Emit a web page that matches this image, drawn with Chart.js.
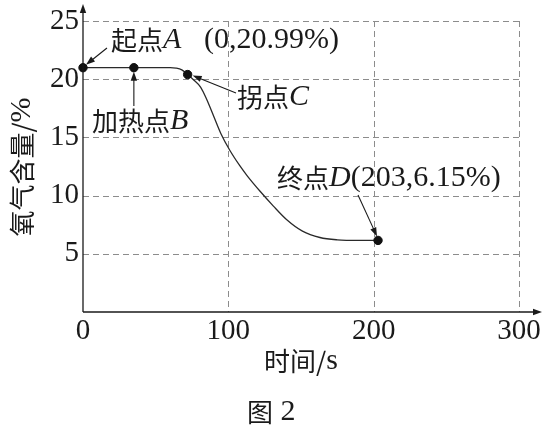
<!DOCTYPE html>
<html>
<head>
<meta charset="utf-8">
<script src="https://cdn.jsdelivr.net/npm/chart.js@4/dist/chart.umd.min.js"></script>
<style>
html,body{margin:0;padding:0;background:#fff;}
#wrap{width:548px;height:429px;position:relative;}
</style>
</head>
<body>
<div id="wrap"><canvas id="c" width="548" height="429"></canvas></div>
<script>
// Curve data (time s, oxygen %)
const times  = [0, 20, 35, 50, 60, 64, 68, 72, 76, 81, 85, 90, 95, 101, 108, 113, 122, 131, 140, 151, 163, 175, 190, 203];
const oxygen = [20.99, 20.99, 20.99, 20.99, 20.99, 20.95, 20.8, 20.4, 19.95, 19.3, 18.3, 16.8, 15.3, 13.9, 12.55, 11.7, 10.35, 9.1, 7.95, 6.95, 6.4, 6.2, 6.15, 6.15];
// Key points
const keyNames  = ['A', 'B', 'C', 'D'];
const keyTimes  = [0, 35, 72, 203];
const keyValues = [20.99, 20.99, 20.4, 6.15];
// Axis ticks
const xTicks = [0, 100, 200, 300];
const yTicks = [5, 10, 15, 20, 25];
const xTitle = ['时间/', 's'];
const yTitle = ['氧气含量/', '%'];
const caption = ['图', ' 2'];

const SERIF = '"Liberation Serif", "DejaVu Serif", serif';
const CJK = '"Noto Sans CJK SC", sans-serif';
const fCJK = '26px ' + CJK;
const fNum = '30px ' + SERIF;
const fTick = '29px ' + SERIF;
const fIt = 'italic 30px ' + SERIF;
const INK = '#1a1a1a';

function drawSegs(ctx, x, y, segs) {
  ctx.textBaseline = 'middle';
  ctx.textAlign = 'left';
  for (const [t, f] of segs) {
    ctx.font = f;
    ctx.fillText(t, x, y);
    x += ctx.measureText(t).width;
  }
  return x;
}
function segsWidth(ctx, segs) {
  let w = 0;
  for (const [t, f] of segs) { ctx.font = f; w += ctx.measureText(t).width; }
  return w;
}
function arrow(ctx, x1, y1, x2, y2) {
  const a = Math.atan2(y2 - y1, x2 - x1);
  const L = 9, W = 3.2;
  ctx.beginPath();
  ctx.moveTo(x1, y1);
  ctx.lineTo(x2 - Math.cos(a) * L * 0.8, y2 - Math.sin(a) * L * 0.8);
  ctx.stroke();
  ctx.beginPath();
  ctx.moveTo(x2, y2);
  ctx.lineTo(x2 - Math.cos(a) * L - Math.sin(a) * W, y2 - Math.sin(a) * L + Math.cos(a) * W);
  ctx.lineTo(x2 - Math.cos(a) * L + Math.sin(a) * W, y2 - Math.sin(a) * L - Math.cos(a) * W);
  ctx.closePath();
  ctx.fill();
}

const grid = {
  id: 'dashgrid',
  beforeDatasetsDraw(chart) {
    const ctx = chart.ctx;
    const xs = chart.scales.x, ys = chart.scales.y;
    const ca = chart.chartArea;
    ctx.save();
    ctx.strokeStyle = '#8c8c8c';
    ctx.lineWidth = 1;
    ctx.setLineDash([6, 4]);
    yTicks.forEach(v => {
      const y = Math.round(ys.getPixelForValue(v)) + 0.5;
      ctx.beginPath(); ctx.moveTo(ca.left, y); ctx.lineTo(ca.right, y); ctx.stroke();
    });
    xTicks.slice(1).forEach(v => {
      const x = Math.round(xs.getPixelForValue(v)) + 0.5;
      ctx.beginPath(); ctx.moveTo(x, ca.top); ctx.lineTo(x, ca.bottom); ctx.stroke();
    });
    ctx.restore();
  }
};

const deco = {
  id: 'deco',
  afterDraw(chart) {
    const ctx = chart.ctx;
    const xs = chart.scales.x, ys = chart.scales.y;
    const ca = chart.chartArea;
    ctx.save();
    ctx.fillStyle = INK;
    ctx.strokeStyle = INK;
    ctx.lineWidth = 1.3;
    // axes arrows
    arrow(ctx, ca.left, ca.bottom, ca.left, 4);
    arrow(ctx, ca.left, ca.bottom, 542, ca.bottom);
    // tick labels
    ctx.font = fTick;
    ctx.textBaseline = 'middle';
    ctx.textAlign = 'right';
    yTicks.forEach(v => ctx.fillText(String(v), ca.left - 4, ys.getPixelForValue(v)));
    ctx.textAlign = 'center';
    xTicks.forEach(v => ctx.fillText(String(v), xs.getPixelForValue(v), ca.bottom + 19));
    // axis titles
    const xt = [[xTitle[0], fCJK], [xTitle[1], fNum]];
    drawSegs(ctx, (ca.left + ca.right) / 2 - segsWidth(ctx, xt) / 2, ca.bottom + 49, xt);
    ctx.save();
    ctx.translate(22, 167);
    ctx.rotate(-Math.PI / 2);
    const yt = [[yTitle[0], fCJK], [yTitle[1], fNum]];
    drawSegs(ctx, -segsWidth(ctx, yt) / 2, 0, yt);
    ctx.restore();
    // caption
    drawSegs(ctx, 247, 412, [[caption[0], fCJK], [caption[1], fNum]]);
    // annotations
    const P = i => [xs.getPixelForValue(keyTimes[i]), ys.getPixelForValue(keyValues[i])];
    ctx.lineWidth = 1.1;
    const [ax, ay] = P(0);
    drawSegs(ctx, 111, 40, [['起点', fCJK], [keyNames[0], fIt]]);
    drawSegs(ctx, 204, 40, [['(' + keyTimes[0] + ',' + keyValues[0].toFixed(2) + '%)', fNum]]);
    arrow(ctx, 107, 48, ax + 3, ay - 3);
    const [bx, by] = P(1);
    drawSegs(ctx, 92, 121, [['加热点', fCJK], [keyNames[1], fIt]]);
    arrow(ctx, bx, 106, bx, by + 4);
    const [cx, cy] = P(2);
    drawSegs(ctx, 237, 97, [['拐点', fCJK], [keyNames[2], fIt]]);
    arrow(ctx, 236, 93, cx + 5, cy + 1);
    const [dx, dy] = P(3);
    drawSegs(ctx, 277, 178, [['终点', fCJK], [keyNames[3], fIt], ['(' + keyTimes[3] + ',' + keyValues[3] + '%)', fNum]]);
    arrow(ctx, 358, 195, dx - 1, dy - 4);
    ctx.restore();
  }
};

new Chart(document.getElementById('c'), {
  type: 'scatter',
  data: {
    datasets: [
      {
        data: times.map((t, i) => ({x: t, y: oxygen[i]})),
        showLine: true,
        borderColor: '#2a2a2a',
        borderWidth: 1.3,
        pointRadius: 0,
        cubicInterpolationMode: 'monotone',
        order: 2
      },
      {
        data: keyTimes.map((t, i) => ({x: t, y: keyValues[i]})),
        showLine: false,
        pointRadius: 4.2,
        pointBackgroundColor: '#111',
        pointBorderColor: '#111',
        order: 1
      }
    ]
  },
  options: {
    responsive: false,
    animation: false,
    events: [],
    clip: false,
    layout: {padding: {left: 0, right: 29, top: 21, bottom: 0}},
    plugins: {legend: {display: false}, tooltip: {enabled: false}},
    scales: {
      x: {
        type: 'linear', min: 0, max: 300,
        afterFit: s => { s.height = 117; },
        afterBuildTicks: s => { s.ticks = xTicks.map(v => ({value: v})); },
        ticks: {display: false},
        grid: {display: false},
        border: {display: false}
      },
      y: {
        type: 'linear', min: 0, max: 25,
        afterFit: s => { s.width = 83; },
        afterBuildTicks: s => { s.ticks = [0].concat(yTicks).map(v => ({value: v})); },
        ticks: {display: false},
        grid: {display: false},
        border: {display: false}
      }
    }
  },
  plugins: [grid, deco]
});
</script>
</body>
</html>
